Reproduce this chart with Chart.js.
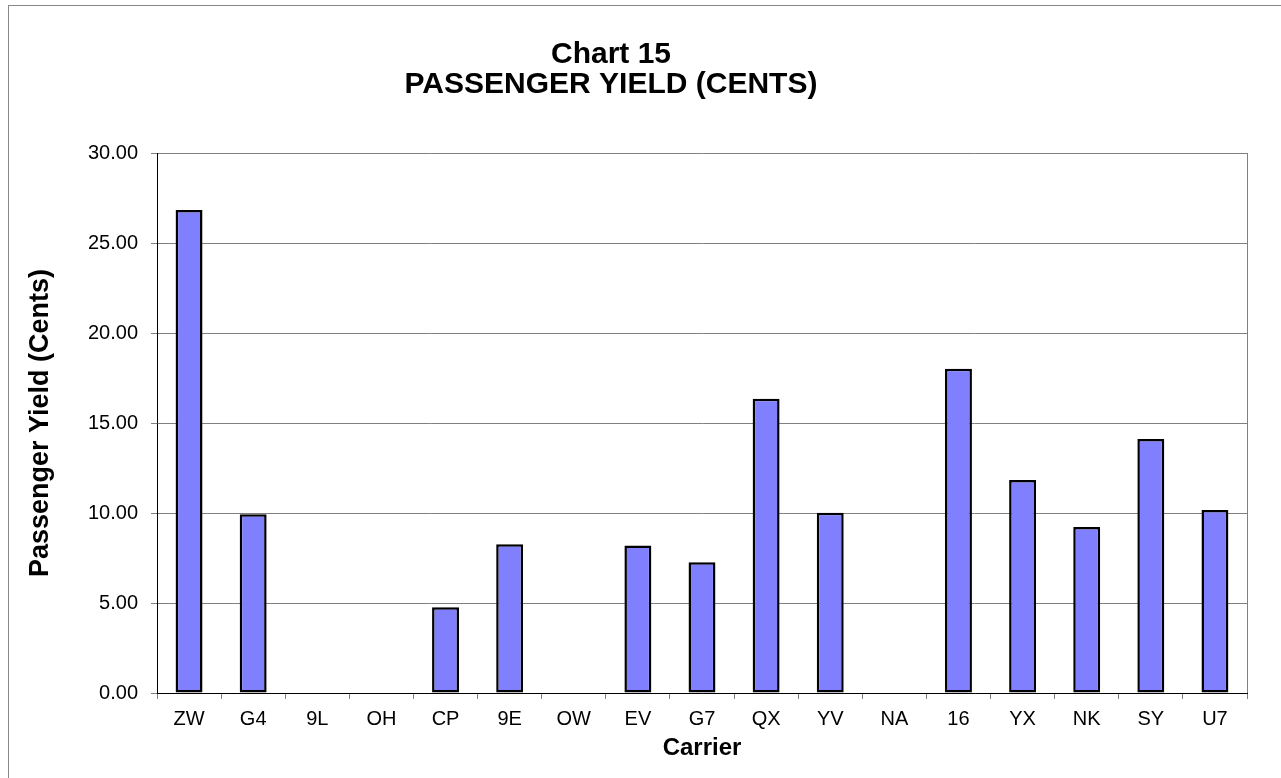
<!DOCTYPE html>
<html>
<head>
<meta charset="utf-8">
<script src="https://cdn.jsdelivr.net/npm/chart.js@4.4.1/dist/chart.umd.min.js"></script>
<style>
  html, body { margin: 0; padding: 0; background: #fff; overflow: hidden; }
  #frame { position: absolute; left: 8px; top: 5px; width: 1300px; height: 800px; border: 1px solid #888; box-sizing: border-box; }
  #wrap { position: absolute; left: 0; top: 0; width: 1281px; height: 778px; }
</style>
</head>
<body>
<div id="frame"></div>
<div id="wrap"><canvas id="c" width="1281" height="778"></canvas></div>
<script>
const titleLines = ['Chart 15', 'PASSENGER YIELD (CENTS)'];
const xAxisTitle = 'Carrier';
const yAxisTitle = 'Passenger Yield (Cents)';
const carriers = ['ZW', 'G4', '9L', 'OH', 'CP', '9E', 'OW', 'EV', 'G7', 'QX', 'YV', 'NA', '16', 'YX', 'NK', 'SY', 'U7'];
const yieldCents = [26.83, 9.93, 0, 0, 4.76, 8.26, 0, 8.19, 7.26, 16.35, 10.02, 0, 18.02, 11.83, 9.22, 14.11, 10.17];
const yMin = 0, yMax = 30, yStep = 5;

const FONT = 'Liberation Sans, Arial, sans-serif';

const plotFrame = {
  id: 'plotFrame',
  afterLayout(chart) {
    const t = chart.titleBlock;
    if (t) { t.left = 0; t.right = 1222; t.width = 1222; }
  },
  afterDatasetsDraw(chart) {
    const a = chart.chartArea, ctx = chart.ctx;
    ctx.save();
    ctx.strokeStyle = '#808080';
    ctx.lineWidth = 1;
    ctx.beginPath();
    ctx.moveTo(Math.round(a.right) + 0.5, a.top);
    ctx.lineTo(Math.round(a.right) + 0.5, a.bottom);
    ctx.stroke();
    ctx.restore();
  }
};

new Chart(document.getElementById('c'), {
  type: 'bar',
  data: {
    labels: carriers,
    datasets: [{
      data: yieldCents,
      backgroundColor: '#8080FF',
      borderColor: '#000000',
      borderWidth: 2.5,
      borderSkipped: false,
      categoryPercentage: 1.0,
      barPercentage: 0.42
    }]
  },
  options: {
    responsive: false,
    animation: false,
    devicePixelRatio: 1,
    layout: { padding: { left: 0, right: 34, top: 0, bottom: 0 } },
    plugins: {
      legend: { display: false },
      tooltip: { enabled: false },
      title: {
        display: true,
        text: titleLines,
        color: '#000',
        font: { family: FONT, size: 30, weight: 'bold', lineHeight: 1.0 },
        padding: { top: 40, bottom: 53 }
      }
    },
    scales: {
      x: {
        afterFit(s) { s.height = 85; },
        grid: { display: true, drawOnChartArea: false, drawTicks: true, tickLength: 6, color: '#808080', offset: true },
        border: { display: true, color: '#000', width: 1 },
        ticks: { color: '#000', font: { family: FONT, size: 20 }, padding: 8, maxRotation: 0, autoSkip: false },
        title: { display: true, text: xAxisTitle, color: '#000', font: { family: FONT, size: 24, weight: 'bold' }, padding: { top: 0, bottom: 15 } }
      },
      y: {
        min: yMin, max: yMax,
        afterFit(s) { s.width = 157; },
        grid: { color: '#808080', lineWidth: 1, drawTicks: true, tickLength: 6 },
        border: { display: true, color: '#000', width: 1 },
        ticks: { stepSize: yStep, color: '#000', font: { family: FONT, size: 20 }, padding: 13, callback: v => Number(v).toFixed(2) },
        title: { display: true, text: yAxisTitle, color: '#000', font: { family: FONT, size: 27, weight: 'bold' }, padding: { top: 24, bottom: 0 } }
      }
    }
  },
  plugins: [plotFrame]
});
</script>
</body>
</html>
